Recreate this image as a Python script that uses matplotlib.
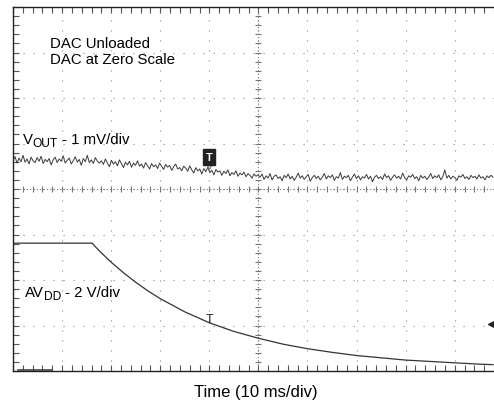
import numpy as np
import matplotlib
matplotlib.use('Agg')
import matplotlib.pyplot as plt
from matplotlib import transforms

plt.rcParams['font.family'] = ['Liberation Sans', 'DejaVu Sans']

# scope screen: x in divisions (10 ms/div), y in divisions (0 = centre line)
vout = [0.63, 0.71, 0.57, 0.68, 0.60, 0.74, 0.59, 0.66, 0.55, 0.70, 0.62, 0.58,
        0.69, 0.61, 0.72, 0.56, 0.65, 0.60, 0.67, 0.53, 0.64, 0.70,
        0.58, 0.66, 0.61, 0.73, 0.57, 0.63, 0.68, 0.55, 0.62, 0.71,
        0.59, 0.65, 0.52, 0.67, 0.60, 0.74, 0.58, 0.64, 0.56, 0.69, 0.61, 0.57,
        0.62, 0.54, 0.66, 0.57, 0.49, 0.63, 0.55, 0.60, 0.51, 0.64,
        0.56, 0.47, 0.59, 0.53, 0.61, 0.48, 0.57, 0.52, 0.62, 0.50,
        0.55, 0.46, 0.58, 0.51, 0.44, 0.56, 0.49, 0.53, 0.45, 0.57,
        0.50, 0.43, 0.54, 0.48, 0.52, 0.41, 0.49, 0.55, 0.44, 0.47, 0.40, 0.50,
        0.46, 0.39, 0.51, 0.42, 0.35, 0.47, 0.40, 0.44, 0.33, 0.45,
        0.38, 0.48, 0.36, 0.41, 0.31, 0.43, 0.37, 0.40, 0.30, 0.39,
        0.34, 0.42, 0.29, 0.36, 0.32, 0.40, 0.28, 0.35, 0.31, 0.37,
        0.27, 0.34, 0.30, 0.24, 0.33, 0.28, 0.31,
        0.26, 0.33, 0.21, 0.29, 0.24, 0.34, 0.20, 0.28, 0.31, 0.23,
        0.27, 0.18, 0.30, 0.25, 0.33, 0.22, 0.28, 0.19, 0.26, 0.35,
        0.24, 0.29, 0.21, 0.27, 0.32, 0.17, 0.25, 0.30, 0.23, 0.28,
        0.20, 0.26, 0.34, 0.22, 0.29, 0.25, 0.31, 0.19, 0.27, 0.24,
        0.36, 0.21, 0.28, 0.25, 0.30, 0.18, 0.26, 0.33, 0.23, 0.29,
        0.20, 0.27, 0.24, 0.32, 0.22, 0.28, 0.16, 0.26, 0.30, 0.23,
        0.27, 0.21, 0.33, 0.25, 0.29, 0.19, 0.26, 0.31, 0.24, 0.28,
        0.22, 0.35, 0.25, 0.20, 0.29, 0.26, 0.32, 0.23, 0.27, 0.18,
        0.30, 0.24, 0.28, 0.21, 0.26, 0.34, 0.23, 0.29, 0.25, 0.31,
        0.20, 0.27, 0.42, 0.24, 0.30, 0.22, 0.28, 0.25, 0.19, 0.29,
        0.26, 0.32, 0.23, 0.27, 0.21, 0.30, 0.25, 0.28, 0.22, 0.31,
        0.24, 0.27, 0.20, 0.29, 0.25, 0.30, 0.26]
vout_t = np.linspace(0, 9.78, len(vout))

avdd_t = [0.0, 1.61, 1.75, 2.0, 2.25, 2.5, 2.75, 3.0, 3.5, 4.0, 4.5, 5.0,
          5.5, 6.0, 6.5, 7.0, 7.5, 8.0, 8.5, 9.0, 9.5, 9.78]
avdd = [-1.19, -1.19, -1.35, -1.61, -1.84, -2.05, -2.24, -2.41, -2.70, -2.94,
        -3.13, -3.28, -3.41, -3.51, -3.59, -3.66, -3.71, -3.76, -3.79, -3.82,
        -3.85, -3.86]

fig = plt.figure(figsize=(4.94, 4.06), dpi=100)
ax = fig.add_axes([13 / 494, 1 - 372 / 406, 481 / 494, 364 / 406])
ax.set_xlim(0, 9.78)
ax.set_ylim(-4, 4)

# grid
ax.set_xticks(np.arange(0, 10, 1))
ax.set_yticks(np.arange(-4, 5, 1))
ax.set_xticks(np.arange(0, 10, 0.2), minor=True)
ax.set_yticks(np.arange(-4, 4.01, 0.2), minor=True)
ax.set_xticklabels([])
ax.set_yticklabels([])
ax.tick_params(which='both', direction='in', length=4, width=0.8,
               color='#555555', top=True, right=False)
ax.grid(True, which='major', color='#888888', lw=0.8, ls=(0, (1, 8)))
ax.spines['right'].set_visible(False)
for s in ['left', 'bottom', 'top']:
    ax.spines[s].set_linewidth(1.0)
    ax.spines[s].set_color('#222222')

# centre cross with small ticks
ax.axhline(0, color='#777777', lw=0.8, ls=(0, (1, 2)))
ax.axvline(5, color='#777777', lw=0.8, ls=(0, (1, 2)))
cx = np.arange(0, 10, 0.2)
cy = np.arange(-4, 4.01, 0.2)
ax.plot(cx, np.zeros_like(cx), '|', ms=5, mew=0.8, color='#777777')
ax.plot(np.full_like(cy, 5), cy, '_', ms=5, mew=0.8, color='#777777')

# traces
ax.plot(vout_t, vout, color='#3a3a3a', lw=0.7)
ax.plot(avdd_t, avdd, color='#333333', lw=0.9)
ax.plot([0.1, 0.8], [-3.97, -3.97], color='#444444', lw=1.2)

# markers
ax.text(4.0, 0.70, 'T', color='white', fontsize=8, fontweight='bold',
        ha='center', va='center',
        bbox=dict(boxstyle='square,pad=0.25', fc='#222222', ec='#222222'))
ax.plot([4.0], [0.50], 'v', ms=5, mfc='none', mec='#777777', mew=0.8)
ax.text(4.0, -2.85, 'T', color='#222222', fontsize=9, ha='center',
        va='center', fontweight='light')
ax.plot([9.74], [-2.97], '<', ms=4, color='#222222', clip_on=False)

# labels
ax.text(0.75, 3.03, 'DAC Unloaded\nDAC at Zero Scale', fontsize=10.8,
        ha='left', va='center', linespacing=1.2)

renderer = fig.canvas.get_renderer()


def sub_label(x, y, main, sub, rest, fs):
    t = ax.text(x, y, main, fontsize=fs, ha='left', va='baseline')
    w = t.get_window_extent(renderer).width
    tr = transforms.offset_copy(ax.transData, fig=fig, x=w, y=-3.5, units='dots')
    t2 = ax.text(x, y, sub, fontsize=fs * 0.8, ha='left', va='baseline',
                 transform=tr)
    w2 = t2.get_window_extent(renderer).width
    tr2 = transforms.offset_copy(ax.transData, fig=fig, x=w + w2, units='dots')
    ax.text(x, y, rest, fontsize=fs, ha='left', va='baseline', transform=tr2)


sub_label(0.2, 1.02, 'V', 'OUT', ' - 1 mV/div', 10.8)
sub_label(0.25, -2.35, 'AV', 'DD', ' - 2 V/div', 10.8)

fig.text(256 / 494, 1 - 393 / 406, 'Time (10 ms/div)', fontsize=12,
         ha='center', va='center')

fig.savefig('out.png', dpi=100)
